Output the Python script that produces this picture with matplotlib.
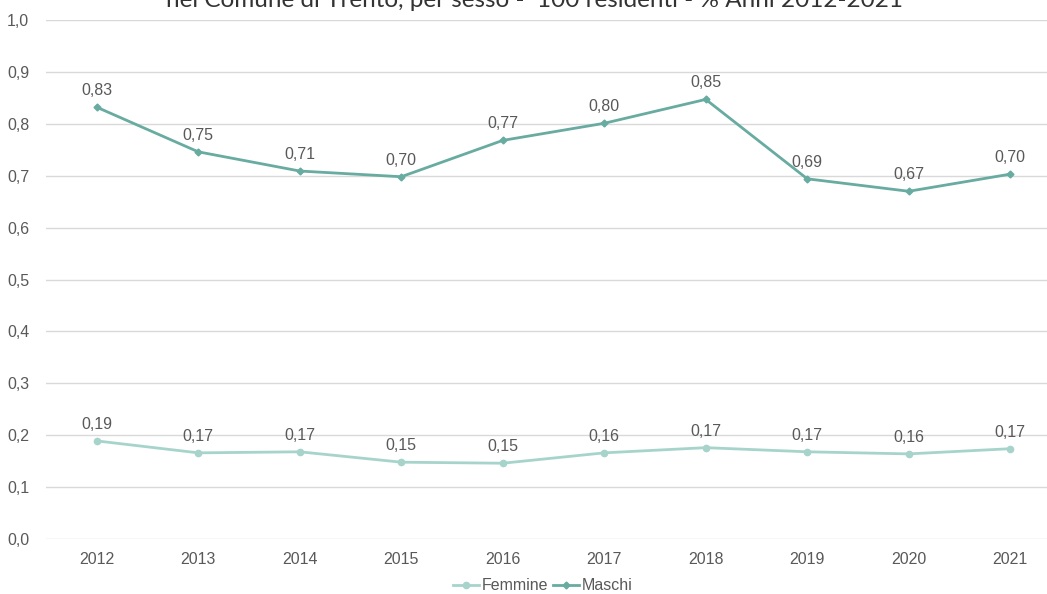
import matplotlib.pyplot as plt
from matplotlib.lines import Line2D

years = ['2012', '2013', '2014', '2015', '2016', '2017', '2018', '2019', '2020', '2021']
femmine = [0.189, 0.166, 0.168, 0.148, 0.146, 0.166, 0.176, 0.168, 0.164, 0.174]
maschi = [0.832, 0.746, 0.709, 0.698, 0.768, 0.801, 0.847, 0.694, 0.670, 0.703]
femmine_labels = ['0,19', '0,17', '0,17', '0,15', '0,15', '0,16', '0,17', '0,17', '0,16', '0,17']
maschi_labels = ['0,83', '0,75', '0,71', '0,70', '0,77', '0,80', '0,85', '0,69', '0,67', '0,70']
title = 'nel Comune di Trento, per sesso -  100 residenti - % Anni 2012-2021'

col_f = '#a6d4cb'
col_m = '#68aba1'
txt = '#595959'

plt.rcParams['font.family'] = ['Liberation Sans', 'DejaVu Sans']

fig = plt.figure(figsize=(10.47, 5.94), dpi=100)
ax = fig.add_axes([46 / 1047, 55 / 594, 1015 / 1047, 519 / 594])

x = list(range(len(years)))
ax.plot(x, femmine, color=col_f, lw=2, marker='o', ms=4.5, zorder=3)
ax.plot(x, maschi, color=col_m, lw=2, marker='D', ms=3.5, zorder=3)

for i in x:
    ax.annotate(femmine_labels[i], (i, femmine[i]), xytext=(0, 6.5), textcoords='offset points',
                ha='center', va='bottom', fontsize=11.5, color=txt)
    ax.annotate(maschi_labels[i], (i, maschi[i]), xytext=(0, 6.5), textcoords='offset points',
                ha='center', va='bottom', fontsize=11.5, color=txt)

ax.set_xlim(-0.5, len(years) - 0.5)
ax.set_ylim(0, 1.0)
ax.set_xticks(x)
ax.set_xticklabels(years)
yt = [i / 10 for i in range(11)]
ax.set_yticks(yt)
ax.set_yticklabels([f'{v:.1f}'.replace('.', ',') for v in yt])
ax.tick_params(length=0, labelsize=11.5, labelcolor=txt)
ax.tick_params(axis='x', pad=9)
ax.tick_params(axis='y', pad=12)
ax.grid(axis='y', color='#d9d9d9', lw=1)
ax.set_axisbelow(True)
for s in ax.spines.values():
    s.set_visible(False)

# il titolo è tagliato in alto come nell'originale
fig.text(535 / 1047, 1 - 7 / 594, title, ha='center', va='baseline',
         fontsize=17.5, color='#333333', family=['Lato', 'DejaVu Sans'])

handles = [Line2D([], [], color=col_f, lw=2, marker='o', ms=4.5),
           Line2D([], [], color=col_m, lw=2, marker='D', ms=3.5)]
fig.legend(handles, ['Femmine', 'Maschi'], loc='center', bbox_to_anchor=(543 / 1047, 1 - 586 / 594),
           ncol=2, frameon=False, fontsize=11.5, labelcolor=txt, handlelength=1.6,
           handletextpad=0.2, columnspacing=0.3)

fig.savefig('out.png', dpi=100)
